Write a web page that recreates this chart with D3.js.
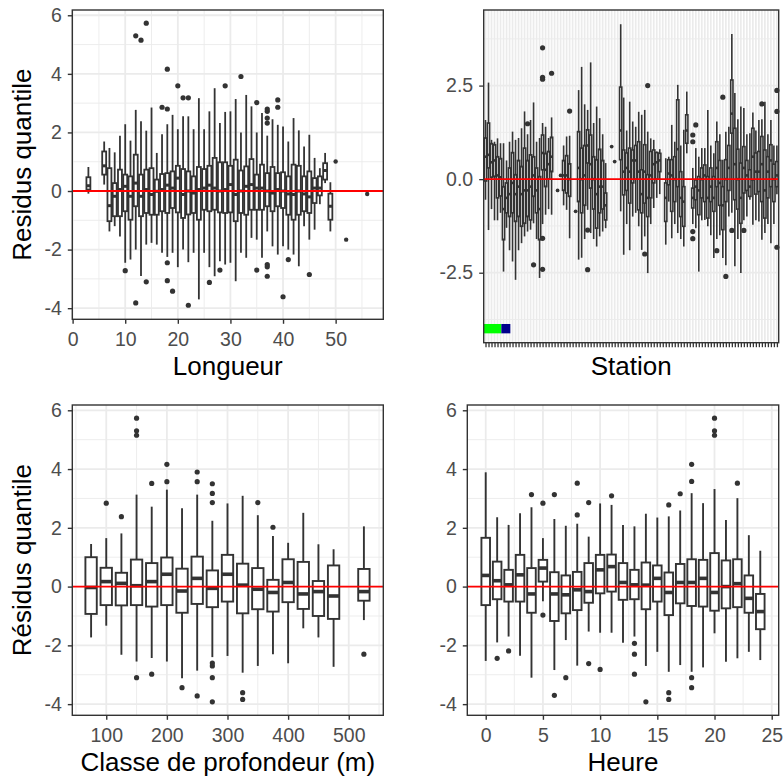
<!DOCTYPE html>
<html><head><meta charset="utf-8">
<script src="https://cdn.jsdelivr.net/npm/d3@7"></script>
<style>body{margin:0;background:#fff}svg{display:block}</style>
</head><body>
<svg id="chart" width="784" height="777"></svg>
<script>
// ---------- Panel 1 : Longueur ----------
const longueurCats = [3,6,7,8,9,10,11,12,13,14,15,16,17,18,19,20,21,22,23,24,25,26,27,28,29,30,31,32,33,34,35,36,37,38,39,40,41,42,43,44,45,46,47,48,49];
// [lower whisker, Q1, median, Q3, upper whisker]
const longueurStats = [
 [-0.09,0.05,0.18,0.47,0.82],[0.22,0.56,0.86,1.35,1.69],[-1.38,-1.03,-0.5,0.78,1.47],[-1.2,-0.86,-0.18,0.27,1.32],
 [-1.55,-0.86,0.05,0.73,1.89],[-2.45,-0.69,0.16,0.56,2.28],[-2.34,-0.98,-0.18,0.5,1.72],[-2.0,-0.52,0.27,1.24,2.77],
 [-2.9,-0.86,-0.18,0.56,2.38],[-1.83,-0.75,0.05,0.73,2.06],[-1.77,-0.81,-0.12,0.78,2.85],[-1.83,-0.81,-0.01,0.39,1.3],
 [-2.11,-0.69,0.05,0.58,1.94],[-2.25,-0.75,0.2,0.61,2.28],[-2.11,-0.58,0.1,0.67,2.6],[-2.6,-0.73,0.44,0.86,2.11],
 [-2.0,-0.92,-0.12,0.75,2.55],[-2.43,-0.8,0.0,0.67,2.55],[-2.11,-0.75,-0.07,0.5,2.11],[-3.7,-0.98,0.05,0.82,3.17],
 [-2.11,-0.64,0.1,0.75,2.11],[-2.6,-0.69,0.2,0.86,2.72],[-2.91,-0.64,0.1,1.13,3.51],[-2.4,-0.73,0.0,0.98,2.32],
 [-2.51,-0.75,0.05,0.98,2.7],[-2.45,-0.73,0.22,0.86,2.72],[-3.08,-1.03,-0.12,1.07,3.14],[-2.11,-0.75,0.0,0.7,2.0],
 [-2.28,-0.81,0.16,0.84,3.28],[-1.6,-0.64,0.22,1.09,2.89],[-1.66,-0.64,0.1,0.56,2.0],[-2.28,-0.64,0.1,0.9,2.66],
 [-1.38,-0.52,0.0,0.61,1.89],[-1.89,-0.69,-0.07,0.82,2.45],[-2.17,-0.52,0.05,0.61,2.26],[-1.89,-0.58,0.0,0.64,2.2],
 [-2.0,-0.81,-0.1,0.5,1.69],[-2.17,-0.98,-0.12,0.9,2.49],[-2.57,-0.81,0.0,0.86,2.07],[-1.2,-0.69,-0.1,0.5,1.52],
 [-1.66,-0.75,-0.2,0.67,1.92],[-1.32,-0.41,0.1,0.44,1.13],[-0.45,-0.15,0.1,0.5,0.78],[0.27,0.39,0.7,0.95,1.3],
 [-1.38,-0.98,-0.52,-0.09,0.3]
];
const longueurOutliers = [[10,-2.72],[12,5.3],[12,-3.82],[13,5.15],[14,5.73],[14,-3.1],[17,2.86],[18,4.16],[18,2.8],[18,-2.45],[18,-3.06],
 [19,-3.42],[20,3.59],[21,3.18],[22,3.18],[22,-3.9],[26,-3.12],[28,-2.7],[29,3.59],[32,3.91],[35,3.02],[35,-2.7],
 [37,2.8],[37,2.72],[37,2.49],[37,2.32],[37,-2.51],[37,-2.59],[37,-2.91],[39,3.11],[39,2.86],[40,-3.61],[41,-2.34],[45,-2.85]];
const longueurSingles = [[50,1.01],[52,-1.66],[56,-0.1]];
const longueurTicks = [0,10,20,30,40,50];

// ---------- Panel 2 : Station ----------
const stationCount = 98;
const stationStats = [
 [-0.55,-0.05,0.6,1.1,1.58],[-1.36,0.3,0.65,1.5,2.58],[-0.8,0.05,0.45,0.95,1.05],[-1.1,0.07,0.5,0.92,1.0],
 [-1.1,-0.5,0.1,0.6,1.09],[-0.9,-0.45,0.05,0.55,0.96],[-2.47,-1.62,-0.8,-0.2,0.96],[-1.3,-0.9,-0.5,-0.1,0.5],
 [-1.9,-1.0,-0.4,0.3,1.0],[-2.2,-0.9,-0.1,0.71,1.27],[-2.69,-1.13,-0.4,0.12,1.05],[-1.9,-1.0,-0.2,0.5,1.1],
 [-1.71,-1.26,-0.4,0.34,1.36],[-1.53,-1.18,-0.3,0.83,1.81],[-1.4,-1.0,-0.3,0.5,1.2],[-1.35,-1.09,-0.2,0.65,1.58],
 [-1.18,-0.46,0.1,0.6,2.05],[-1.6,-0.9,-0.3,0.3,1.0],[-2.64,-1.62,-0.8,0.07,1.1],[-1.2,0.25,0.7,1.18,1.5],
 [-0.95,-0.2,0.25,0.69,1.4],[-0.8,0.0,0.4,0.74,1.1],[-0.95,0.2,0.6,1.12,1.65],null,
 null,null,[-0.7,-0.3,0.1,0.5,0.9],[-0.82,-0.37,0.1,0.63,1.14],
 [-1.58,-0.46,0.0,0.41,1.16],null,null,[-2.15,-0.6,0.3,1.27,2.38],
 [-2.1,-0.9,0.0,0.83,3.0],[-1.6,-0.7,0.1,0.9,2.0],[-0.82,0.43,0.9,1.32,1.85],[-1.44,-0.24,0.4,1.18,3.12],
 [-1.6,-0.8,0.0,0.6,1.5],[-1.8,-1.31,-0.4,0.52,1.94],[-1.53,-0.9,-0.2,0.8,1.63],[-1.4,-0.8,-0.2,0.5,1.2],
 [-1.31,-1.09,-0.7,-0.37,0.43],null,null,null,
 null,[-0.86,0.52,1.3,2.46,4.14],[-2.02,-0.42,0.2,0.78,2.18],[-1.2,-0.3,0.3,0.7,1.3],
 [-1.9,-0.64,0.2,0.83,2.07],[-1.0,-0.1,0.5,0.78,1.54],[-0.9,0.0,0.5,0.9,1.4],[-1.26,-0.82,0.2,1.0,1.8],
 [-1.89,-0.9,-0.4,0.25,1.72],[-1.53,-0.64,0.2,0.92,1.85],[-2.51,-1.0,-0.5,0.12,1.27],[-1.2,-0.5,0.1,0.74,1.09],
 [-0.77,-0.1,0.4,0.78,1.05],[-0.5,0.0,0.45,0.71,0.74],[-0.4,0.2,0.5,0.69,0.8],null,
 [-1.75,-1.13,-0.5,-0.1,0.56],[-0.6,-0.15,0.15,0.52,0.6],[-1.58,-0.86,0.1,0.52,1.45],[-1.2,-0.6,0.0,0.6,1.0],
 [-1.44,-0.2,0.8,2.12,2.52],[-1.6,-1.0,-0.5,0.2,0.9],[-1.8,-1.26,-0.6,-0.2,1.32],[0.69,0.96,1.3,1.72,2.34],
 null,[-1.2,-0.77,-0.5,-0.24,0.3],[-1.31,-0.55,-0.2,-0.02,0.83],[-2.47,-0.95,-0.3,0.07,0.6],
 [-1.1,-0.5,0.0,0.3,0.83],[-1.09,-0.6,0.1,0.38,0.83],[-1.26,-1.04,-0.5,0.07,1.85],[-1.5,-0.6,-0.2,0.3,0.9],
 [-2.11,-0.86,-0.5,0.07,0.69],[-1.6,-0.2,0.3,1.0,1.54],[-1.5,-0.7,-0.1,0.5,1.2],[-2.11,-1.35,-0.7,-0.2,0.52],
 [-2.3,-0.6,0.0,0.52,1.27],[-1.0,-0.3,0.3,0.9,1.4],[-0.9,1.23,1.75,2.65,3.88],[-2.33,-0.55,0.4,1.36,2.3],
 [-1.6,-0.8,0.0,0.8,1.6],[-2.51,-1.18,-0.5,0.43,1.94],[-1.1,-0.37,0.3,0.87,1.9],[-1.0,-0.3,0.1,0.5,1.2],
 [-0.55,-0.46,-0.2,0.25,1.23],[-1.22,-0.02,0.6,1.36,1.78],[-1.1,-0.4,0.2,0.7,1.3],[-1.13,-0.33,0.2,0.74,1.58],
 [-1.62,-0.6,0.4,1.14,1.6],[-1.44,-1.04,-0.3,0.78,2.07],[-1.2,-0.5,0.2,0.6,1.2],[-1.71,-0.2,0.5,0.92,1.58],
 [-1.2,-0.6,0.0,0.4,0.9],[-0.4,-0.2,0.1,0.47,0.9]
];
const stationOutliers = [[14,1.48],[16,-2.29],[19,3.51],[19,2.72],[19,2.67],[19,-1.58],[19,-2.41],[22,2.83],[28,1.82],
 [34,-1.36],[34,-2.42],[53,-2.0],[54,2.5],[69,1.18],[69,1.0],[69,-1.4],[69,-1.59],[70,1.45],[77,-1.91],[79,2.19],
 [80,-2.6],[82,-1.37],[86,-1.37],[92,2.01],[97,2.37],[97,1.81],[97,-1.82]];
const stationSingles = [[24,-0.3],[25,0.1],[30,-0.86],[42,0.87],[43,0.47]];
const stationBandFrom = [-0.6, 5.27];
const stationBandTo = [5.27, 8.27];
const stationBandColors = ["#00ff00", "#00008b"];
const stationBandY = [-3.87, -4.12];
const stationYTicks = [-2.5, 0, 2.5];

// ---------- Panel 3 : Classe de profondeur ----------
const profondeurCats = [75,100,125,150,175,200,225,250,275,300,325,350,375,400,425,450,475,525];
const profondeurStats = [
 [-1.73,-0.93,-0.03,1.0,1.45],[-1.33,-0.63,0.17,0.64,1.65],[-2.32,-0.64,0.11,0.47,1.81],[-2.55,-0.63,0.03,0.92,3.13],
 [-2.43,-0.68,0.17,0.8,2.72],[-2.55,-0.63,0.42,0.99,3.3],[-3.12,-0.89,-0.15,0.61,2.67],[-2.86,-0.59,0.28,1.02,3.13],
 [-2.4,-0.7,-0.06,0.55,2.24],[-2.36,-0.51,0.42,1.08,2.83],[-2.93,-0.91,0.05,0.78,3.09],[-2.7,-0.77,-0.09,0.63,2.43],
 [-2.3,-0.85,-0.2,0.23,1.72],[-2.61,-0.53,0.14,0.93,1.49],[-1.42,-0.76,-0.25,0.84,2.51],[-1.73,-1.0,-0.17,0.19,1.44],
 [-2.73,-1.1,-0.32,0.72,1.27],[-1.14,-0.48,-0.17,0.6,2.05]
];
const profondeurOutliers = [[100,2.84],[125,2.38],[150,5.73],[150,5.3],[150,5.15],[150,-3.1],[175,3.51],[175,-2.98],
 [200,4.16],[200,3.57],[225,-3.44],[250,3.9],[250,3.57],[250,-3.72],[275,3.5],[275,3.17],[275,2.86],[275,-2.6],
 [275,-2.7],[275,-3.1],[275,-3.92],[325,-3.61],[325,-3.84],[350,2.86],[375,2.02],[525,-2.3]];
const profondeurTicks = [100,200,300,400,500];

// ---------- Panel 4 : Heure ----------
const heureCats = [0,1,2,3,4,5,6,7,8,9,10,11,12,13,14,15,16,17,18,19,20,21,22,23,24];
const heureStats = [
 [-2.53,-0.63,0.38,1.66,3.89],[-1.9,-0.43,0.2,0.85,2.36],[-1.7,-0.51,0.06,0.57,2.1],[-2.35,-0.51,0.4,1.08,2.5],
 [-3.1,-0.89,-0.25,0.63,2.7],[-0.5,0.17,0.63,0.91,1.65],[-2.84,-1.17,-0.25,0.49,2.3],[-1.82,-0.91,-0.28,0.38,2.07],
 [-2.69,-0.8,-0.11,0.5,2.14],[-1.53,-0.55,-0.17,0.8,1.7],[-1.57,-0.23,0.57,1.08,2.83],[-1.57,-0.17,0.68,1.09,2.78],
 [-1.91,-0.45,0.14,0.8,2.1],[-1.7,-0.43,0.06,0.57,2.05],[-2.7,-0.77,0.05,0.82,2.48],[-2.22,-0.51,0.28,0.72,2.35],
 [-2.9,-0.97,-0.2,0.48,2.39],[-2.67,-0.57,0.14,0.77,2.59],[-2.9,-0.66,0.14,0.93,3.18],[-2.75,-0.68,0.28,0.91,2.84],
 [-1.59,-0.82,-0.2,1.14,3.32],[-2.56,-0.74,0.0,0.89,2.27],[-2.44,-0.7,0.1,0.93,3.01],[-2.22,-0.89,-0.4,0.38,1.75],
 [-2.5,-1.45,-0.85,-0.25,1.22]
];
const heureOutliers = [[1,-2.44],[2,-2.19],[4,3.13],[5,2.84],[5,-0.97],[6,3.13],[6,-3.7],[7,-3.1],[8,3.52],[8,2.44],
 [9,2.86],[9,-2.62],[10,-2.82],[11,3.09],[13,-1.93],[13,-2.3],[13,-2.98],[14,-3.92],[16,2.78],[16,-3.61],[16,-3.84],
 [17,3.16],[18,4.16],[18,3.58],[18,-3.1],[18,-3.44],[20,5.73],[20,5.3],[20,5.15],[22,3.52]];
const heureTicks = [0,5,10,15,20,25];

const residTicks = [-4,-2,0,2,4,6];
const residMinor = [-3,-1,1,3,5];

// ---------- drawing ----------
const FONT = '"Liberation Sans", Arial, Helvetica, sans-serif';
const svg = d3.select("#chart");
const DARK = "#333333";

function drawPanel(c) {
  const x = d3.scaleLinear().domain(c.xDomain).range([c.left, c.right]);
  const y = d3.scaleLinear().domain(c.yDomain).range([c.bottom, c.top]);
  const g = svg.append("g");
  const grid = g.append("g");
  const hline = (v, w) => grid.append("line").attr("x1", c.left).attr("x2", c.right)
      .attr("y1", y(v)).attr("y2", y(v)).attr("stroke", "#ebebeb").attr("stroke-width", w);
  const vline = (v, w) => grid.append("line").attr("y1", c.top).attr("y2", c.bottom)
      .attr("x1", x(v)).attr("x2", x(v)).attr("stroke", "#ebebeb").attr("stroke-width", w);
  c.yMinor.forEach(v => hline(v, 0.9));
  c.xMinor.forEach(v => vline(v, 0.9));
  c.yMajor.forEach(v => hline(v, 1.8));
  c.xMajor.forEach(v => vline(v, c.xGridW || 1.8));

  const half = (x(c.boxW) - x(0)) / 2;
  const bx = g.append("g");
  c.boxes.forEach(b => {
    const cx = x(b.x);
    const [lw, q1, md, q3, uw] = b.s;
    bx.append("line").attr("x1", cx).attr("x2", cx).attr("y1", y(uw)).attr("y2", y(q3))
      .attr("stroke", DARK).attr("stroke-width", c.sw);
    bx.append("line").attr("x1", cx).attr("x2", cx).attr("y1", y(q1)).attr("y2", y(lw))
      .attr("stroke", DARK).attr("stroke-width", c.sw);
    bx.append("rect").attr("x", cx - half).attr("width", 2 * half)
      .attr("y", y(q3)).attr("height", Math.max(0, y(q1) - y(q3)))
      .attr("fill", "#fff").attr("stroke", DARK).attr("stroke-width", c.sw);
    bx.append("line").attr("x1", cx - half).attr("x2", cx + half).attr("y1", y(md)).attr("y2", y(md))
      .attr("stroke", DARK).attr("stroke-width", c.mw);
  });
  c.outliers.forEach(([xv, v]) => bx.append("circle").attr("cx", x(xv)).attr("cy", y(v)).attr("r", 2.6).attr("fill", DARK));
  c.singles.forEach(([xv, v]) => bx.append("circle").attr("cx", x(xv)).attr("cy", y(v)).attr("r", c.singleR || 2.2).attr("fill", DARK));

  if (c.bands) {
    c.bands.from.forEach((f, i) => {
      g.append("rect").attr("x", x(f)).attr("width", x(c.bands.to[i]) - x(f))
        .attr("y", y(c.bands.y[0])).attr("height", y(c.bands.y[1]) - y(c.bands.y[0]))
        .attr("fill", c.bands.colors[i]);
    });
  }

  g.append("line").attr("x1", c.left).attr("x2", c.right).attr("y1", y(0)).attr("y2", y(0))
    .attr("stroke", "#ff0000").attr("stroke-width", 1.9);

  g.append("rect").attr("x", c.left).attr("y", c.top).attr("width", c.right - c.left).attr("height", c.bottom - c.top)
    .attr("fill", "none").attr("stroke", DARK).attr("stroke-width", 1.4);

  const ya = g.append("g").attr("transform", `translate(${c.left},0)`)
    .call(d3.axisLeft(y).tickValues(c.yTicks).tickSize(4.5).tickPadding(6).tickFormat(c.yFormat));
  const xa = g.append("g").attr("transform", `translate(0,${c.bottom})`)
    .call(d3.axisBottom(x).tickValues(c.xTicks).tickSize(4.5).tickPadding(8.5).tickFormat(c.xFormat));
  [ya, xa].forEach(a => {
    a.select(".domain").remove();
    a.selectAll(".tick line").attr("stroke", DARK).attr("stroke-width", c.tickW || 1.4);
    a.selectAll(".tick text").attr("fill", "#4d4d4d").style("font-family", FONT).style("font-size", "19.5px");
  });

  g.append("text").attr("x", (c.left + c.right) / 2).attr("y", c.xTitleY).attr("text-anchor", "middle")
    .style("font-family", FONT).style("font-size", "26px").attr("fill", "#000").text(c.xTitle);
  if (c.yTitle) {
    g.append("text").attr("transform", `translate(31,${(c.top + c.bottom) / 2}) rotate(-90)`)
      .attr("text-anchor", "middle").style("font-family", FONT).style("font-size", "26px")
      .attr("fill", "#000").text(c.yTitle);
  }
}

const fmtInt = v => String(v);

drawPanel({
  left: 72.3, right: 383.3, top: 10, bottom: 319.3,
  xDomain: [-0.06, 59.06], yDomain: [-4.38, 6.18],
  xMajor: longueurTicks, xMinor: [5, 15, 25, 35, 45, 55], yMajor: residTicks, yMinor: residMinor,
  xTicks: longueurTicks, yTicks: residTicks, xFormat: fmtInt, yFormat: fmtInt,
  boxes: longueurCats.map((k, i) => ({x: k, s: longueurStats[i]})),
  outliers: longueurOutliers, singles: longueurSingles,
  boxW: 0.75, sw: 1.8, mw: 3.0,
  xTitle: "Longueur", xTitleY: 375, yTitle: "Residus quantile"
});

const stationIdx = d3.range(stationCount);
drawPanel({
  left: 483.7, right: 778.7, top: 10, bottom: 342.7,
  xDomain: [-0.6, stationCount - 1 + 0.6], yDomain: [-4.37, 4.52],
  xMajor: stationIdx, xMinor: [], xGridW: 1.7,
  yMajor: stationYTicks, yMinor: [-3.75, -1.25, 1.25, 3.75],
  xTicks: stationIdx, yTicks: stationYTicks, xFormat: () => "", yFormat: v => v.toFixed(1),
  boxes: stationStats.map((s, i) => s ? {x: i, s: s} : null).filter(d => d),
  outliers: stationOutliers, singles: stationSingles, singleR: 1.9,
  boxW: 0.75, sw: 1.6, mw: 2.6, tickW: 1.3,
  bands: {from: stationBandFrom, to: stationBandTo, colors: stationBandColors, y: stationBandY},
  xTitle: "Station", xTitleY: 375, yTitle: null
});

drawPanel({
  left: 72.3, right: 383.3, top: 405, bottom: 715.3,
  xDomain: [44, 557], yDomain: [-4.38, 6.18],
  xMajor: profondeurTicks, xMinor: [50, 150, 250, 350, 450, 550], yMajor: residTicks, yMinor: residMinor,
  xTicks: profondeurTicks, yTicks: residTicks, xFormat: fmtInt, yFormat: fmtInt,
  boxes: profondeurCats.map((k, i) => ({x: k, s: profondeurStats[i]})),
  outliers: profondeurOutliers, singles: [],
  boxW: 18.75, sw: 1.9, mw: 3.6,
  xTitle: "Classe de profondeur (m)", xTitleY: 771, yTitle: "Résidus quantile"
});

drawPanel({
  left: 467.3, right: 778.7, top: 405, bottom: 715.3,
  xDomain: [-1.61, 25.61], yDomain: [-4.38, 6.18],
  xMajor: heureTicks, xMinor: [2.5, 7.5, 12.5, 17.5, 22.5], yMajor: residTicks, yMinor: residMinor,
  xTicks: heureTicks, yTicks: residTicks, xFormat: fmtInt, yFormat: fmtInt,
  boxes: heureCats.map((k, i) => ({x: k, s: heureStats[i]})),
  outliers: heureOutliers, singles: [],
  boxW: 0.75, sw: 1.9, mw: 3.6,
  xTitle: "Heure", xTitleY: 771, yTitle: null
});
</script>
</body></html>
